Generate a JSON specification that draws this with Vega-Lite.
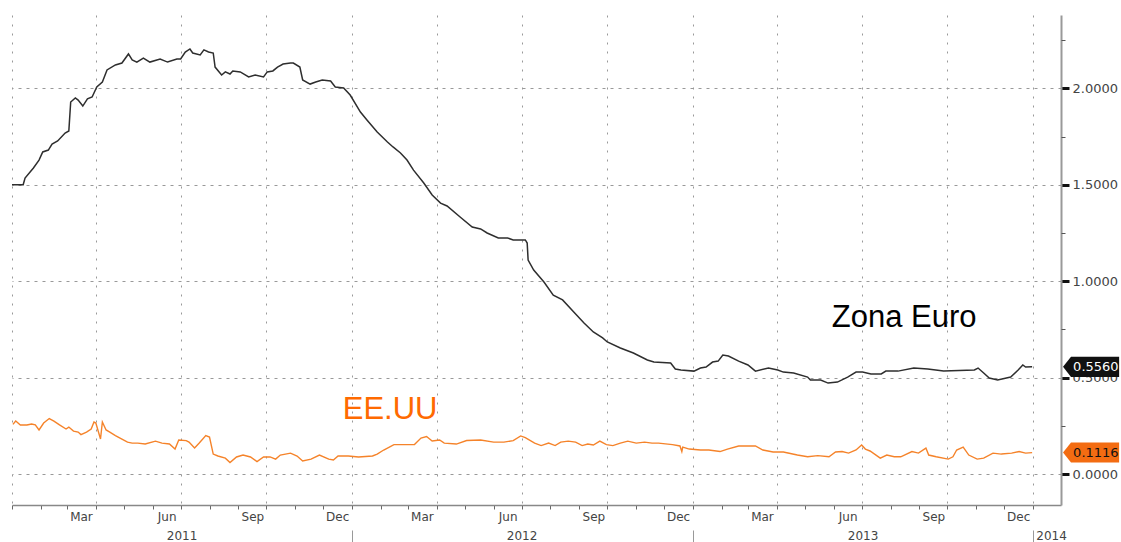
{
  "$schema": "https://vega.github.io/schema/vega-lite/v6.json",
  "width": 1049,
  "height": 490,
  "autosize": {"type": "none"},
  "padding": {"left": 12, "top": 15, "right": 60, "bottom": 37},
  "background": "white",
  "config": {
    "view": {"stroke": null},
    "axis": {"labelFont": "DejaVu Sans", "labelColor": "#444", "title": null}
  },
  "datasets": {
    "eu": [
      {"date": "2011-01-01", "value": 1.50}, {"date": "2011-01-13", "value": 1.50}, {"date": "2011-01-15", "value": 1.535},
      {"date": "2011-01-24", "value": 1.587}, {"date": "2011-01-30", "value": 1.628}, {"date": "2011-02-03", "value": 1.670},
      {"date": "2011-02-09", "value": 1.680}, {"date": "2011-02-13", "value": 1.711}, {"date": "2011-02-19", "value": 1.727},
      {"date": "2011-02-27", "value": 1.768}, {"date": "2011-03-03", "value": 1.779}, {"date": "2011-03-05", "value": 1.929},
      {"date": "2011-03-10", "value": 1.950}, {"date": "2011-03-13", "value": 1.939}, {"date": "2011-03-18", "value": 1.908},
      {"date": "2011-03-23", "value": 1.945}, {"date": "2011-03-28", "value": 1.955}, {"date": "2011-04-02", "value": 2.007},
      {"date": "2011-04-08", "value": 2.033}, {"date": "2011-04-13", "value": 2.095}, {"date": "2011-04-22", "value": 2.121},
      {"date": "2011-04-29", "value": 2.131}, {"date": "2011-05-06", "value": 2.178}, {"date": "2011-05-10", "value": 2.147},
      {"date": "2011-05-15", "value": 2.136}, {"date": "2011-05-22", "value": 2.157}, {"date": "2011-05-29", "value": 2.136},
      {"date": "2011-06-09", "value": 2.152}, {"date": "2011-06-17", "value": 2.136}, {"date": "2011-06-27", "value": 2.152},
      {"date": "2011-07-01", "value": 2.152}, {"date": "2011-07-06", "value": 2.188}, {"date": "2011-07-11", "value": 2.204},
      {"date": "2011-07-14", "value": 2.183}, {"date": "2011-07-22", "value": 2.173}, {"date": "2011-07-26", "value": 2.199},
      {"date": "2011-07-31", "value": 2.188}, {"date": "2011-08-05", "value": 2.183}, {"date": "2011-08-07", "value": 2.110},
      {"date": "2011-08-14", "value": 2.069}, {"date": "2011-08-18", "value": 2.085}, {"date": "2011-08-23", "value": 2.074},
      {"date": "2011-08-26", "value": 2.090}, {"date": "2011-09-03", "value": 2.085}, {"date": "2011-09-12", "value": 2.059},
      {"date": "2011-09-19", "value": 2.069}, {"date": "2011-09-28", "value": 2.059}, {"date": "2011-10-02", "value": 2.085},
      {"date": "2011-10-08", "value": 2.090}, {"date": "2011-10-13", "value": 2.110}, {"date": "2011-10-19", "value": 2.126},
      {"date": "2011-10-27", "value": 2.131}, {"date": "2011-10-30", "value": 2.131}, {"date": "2011-11-06", "value": 2.110},
      {"date": "2011-11-09", "value": 2.043}, {"date": "2011-11-17", "value": 2.022}, {"date": "2011-11-23", "value": 2.033},
      {"date": "2011-11-30", "value": 2.043}, {"date": "2011-12-09", "value": 2.038}, {"date": "2011-12-14", "value": 2.007},
      {"date": "2011-12-23", "value": 2.002}, {"date": "2011-12-30", "value": 1.965}, {"date": "2012-01-10", "value": 1.877},
      {"date": "2012-01-17", "value": 1.836}, {"date": "2012-01-28", "value": 1.773}, {"date": "2012-02-08", "value": 1.722},
      {"date": "2012-02-14", "value": 1.696}, {"date": "2012-02-22", "value": 1.665}, {"date": "2012-02-29", "value": 1.628},
      {"date": "2012-03-07", "value": 1.576}, {"date": "2012-03-18", "value": 1.509}, {"date": "2012-03-27", "value": 1.447},
      {"date": "2012-04-05", "value": 1.405}, {"date": "2012-04-12", "value": 1.390}, {"date": "2012-04-26", "value": 1.333},
      {"date": "2012-05-09", "value": 1.281}, {"date": "2012-05-18", "value": 1.271}, {"date": "2012-05-25", "value": 1.250},
      {"date": "2012-06-06", "value": 1.224}, {"date": "2012-06-16", "value": 1.224}, {"date": "2012-06-22", "value": 1.214},
      {"date": "2012-06-30", "value": 1.214}, {"date": "2012-07-05", "value": 1.214}, {"date": "2012-07-07", "value": 1.198},
      {"date": "2012-07-08", "value": 1.110}, {"date": "2012-07-14", "value": 1.058}, {"date": "2012-07-25", "value": 0.996},
      {"date": "2012-08-04", "value": 0.928}, {"date": "2012-08-14", "value": 0.903}, {"date": "2012-08-26", "value": 0.840},
      {"date": "2012-09-06", "value": 0.783}, {"date": "2012-09-16", "value": 0.737}, {"date": "2012-09-26", "value": 0.706},
      {"date": "2012-10-01", "value": 0.685}, {"date": "2012-10-15", "value": 0.654}, {"date": "2012-10-29", "value": 0.628},
      {"date": "2012-11-13", "value": 0.592}, {"date": "2012-11-20", "value": 0.581}, {"date": "2012-12-08", "value": 0.576},
      {"date": "2012-12-13", "value": 0.545}, {"date": "2012-12-19", "value": 0.540}, {"date": "2013-01-02", "value": 0.534},
      {"date": "2013-01-09", "value": 0.550}, {"date": "2013-01-15", "value": 0.555}, {"date": "2013-01-22", "value": 0.581},
      {"date": "2013-01-28", "value": 0.586}, {"date": "2013-02-02", "value": 0.617}, {"date": "2013-02-08", "value": 0.612},
      {"date": "2013-02-19", "value": 0.586}, {"date": "2013-03-01", "value": 0.566}, {"date": "2013-03-09", "value": 0.534},
      {"date": "2013-03-23", "value": 0.550}, {"date": "2013-04-02", "value": 0.540}, {"date": "2013-04-08", "value": 0.529},
      {"date": "2013-04-19", "value": 0.524}, {"date": "2013-05-04", "value": 0.503}, {"date": "2013-05-07", "value": 0.488},
      {"date": "2013-05-18", "value": 0.488}, {"date": "2013-05-26", "value": 0.472}, {"date": "2013-06-05", "value": 0.477},
      {"date": "2013-06-16", "value": 0.503}, {"date": "2013-06-25", "value": 0.529}, {"date": "2013-07-02", "value": 0.529},
      {"date": "2013-07-11", "value": 0.519}, {"date": "2013-07-22", "value": 0.519}, {"date": "2013-07-27", "value": 0.534},
      {"date": "2013-08-09", "value": 0.534}, {"date": "2013-08-26", "value": 0.550}, {"date": "2013-09-10", "value": 0.545},
      {"date": "2013-09-27", "value": 0.534}, {"date": "2013-10-30", "value": 0.540}, {"date": "2013-11-03", "value": 0.550},
      {"date": "2013-11-09", "value": 0.524}, {"date": "2013-11-15", "value": 0.498}, {"date": "2013-11-24", "value": 0.488},
      {"date": "2013-12-08", "value": 0.503}, {"date": "2013-12-16", "value": 0.540}, {"date": "2013-12-21", "value": 0.566},
      {"date": "2013-12-24", "value": 0.555}, {"date": "2013-12-31", "value": 0.556}
    ],
    "us": [
      {"date": "2011-01-02", "value": 0.258}, {"date": "2011-01-05", "value": 0.275}, {"date": "2011-01-10", "value": 0.255},
      {"date": "2011-01-17", "value": 0.255}, {"date": "2011-01-22", "value": 0.260}, {"date": "2011-01-26", "value": 0.255},
      {"date": "2011-01-30", "value": 0.229}, {"date": "2011-02-04", "value": 0.265}, {"date": "2011-02-10", "value": 0.288},
      {"date": "2011-02-15", "value": 0.275}, {"date": "2011-02-21", "value": 0.255}, {"date": "2011-02-28", "value": 0.234},
      {"date": "2011-03-03", "value": 0.244}, {"date": "2011-03-08", "value": 0.223}, {"date": "2011-03-13", "value": 0.218},
      {"date": "2011-03-16", "value": 0.205}, {"date": "2011-03-22", "value": 0.218}, {"date": "2011-03-27", "value": 0.234},
      {"date": "2011-03-30", "value": 0.270}, {"date": "2011-04-01", "value": 0.265}, {"date": "2011-04-06", "value": 0.182},
      {"date": "2011-04-08", "value": 0.270}, {"date": "2011-04-12", "value": 0.229}, {"date": "2011-04-16", "value": 0.218},
      {"date": "2011-04-22", "value": 0.200}, {"date": "2011-04-29", "value": 0.182}, {"date": "2011-05-05", "value": 0.166},
      {"date": "2011-05-10", "value": 0.161}, {"date": "2011-05-16", "value": 0.161}, {"date": "2011-05-24", "value": 0.156},
      {"date": "2011-06-04", "value": 0.171}, {"date": "2011-06-11", "value": 0.161}, {"date": "2011-06-19", "value": 0.156},
      {"date": "2011-06-25", "value": 0.130}, {"date": "2011-06-29", "value": 0.177}, {"date": "2011-07-07", "value": 0.174},
      {"date": "2011-07-10", "value": 0.166}, {"date": "2011-07-16", "value": 0.135}, {"date": "2011-07-21", "value": 0.161},
      {"date": "2011-07-28", "value": 0.200}, {"date": "2011-08-01", "value": 0.192}, {"date": "2011-08-05", "value": 0.104},
      {"date": "2011-08-10", "value": 0.094}, {"date": "2011-08-18", "value": 0.083}, {"date": "2011-08-23", "value": 0.060},
      {"date": "2011-08-30", "value": 0.089}, {"date": "2011-09-06", "value": 0.099}, {"date": "2011-09-14", "value": 0.089},
      {"date": "2011-09-21", "value": 0.065}, {"date": "2011-09-28", "value": 0.089}, {"date": "2011-10-05", "value": 0.089},
      {"date": "2011-10-11", "value": 0.078}, {"date": "2011-10-16", "value": 0.099}, {"date": "2011-10-27", "value": 0.109},
      {"date": "2011-11-03", "value": 0.094}, {"date": "2011-11-09", "value": 0.068}, {"date": "2011-11-18", "value": 0.078},
      {"date": "2011-11-27", "value": 0.099}, {"date": "2011-12-07", "value": 0.078}, {"date": "2011-12-12", "value": 0.073},
      {"date": "2011-12-17", "value": 0.094}, {"date": "2011-12-28", "value": 0.094}, {"date": "2012-01-08", "value": 0.089},
      {"date": "2012-01-23", "value": 0.094}, {"date": "2012-01-28", "value": 0.104}, {"date": "2012-02-04", "value": 0.125},
      {"date": "2012-02-15", "value": 0.153}, {"date": "2012-03-08", "value": 0.153}, {"date": "2012-03-15", "value": 0.187},
      {"date": "2012-03-21", "value": 0.195}, {"date": "2012-03-27", "value": 0.172}, {"date": "2012-04-04", "value": 0.177},
      {"date": "2012-04-09", "value": 0.161}, {"date": "2012-04-22", "value": 0.156}, {"date": "2012-05-03", "value": 0.174},
      {"date": "2012-05-18", "value": 0.177}, {"date": "2012-06-01", "value": 0.166}, {"date": "2012-06-12", "value": 0.166},
      {"date": "2012-06-22", "value": 0.174}, {"date": "2012-06-30", "value": 0.198}, {"date": "2012-07-05", "value": 0.189},
      {"date": "2012-07-15", "value": 0.161}, {"date": "2012-07-22", "value": 0.148}, {"date": "2012-07-30", "value": 0.161},
      {"date": "2012-08-06", "value": 0.148}, {"date": "2012-08-12", "value": 0.166}, {"date": "2012-08-20", "value": 0.171},
      {"date": "2012-08-28", "value": 0.166}, {"date": "2012-09-04", "value": 0.148}, {"date": "2012-09-10", "value": 0.156},
      {"date": "2012-09-16", "value": 0.151}, {"date": "2012-09-23", "value": 0.171}, {"date": "2012-09-30", "value": 0.153},
      {"date": "2012-10-07", "value": 0.148}, {"date": "2012-10-15", "value": 0.161}, {"date": "2012-10-23", "value": 0.171},
      {"date": "2012-11-01", "value": 0.161}, {"date": "2012-11-10", "value": 0.166}, {"date": "2012-11-18", "value": 0.161},
      {"date": "2012-11-25", "value": 0.161}, {"date": "2012-12-10", "value": 0.153}, {"date": "2012-12-18", "value": 0.146},
      {"date": "2012-12-20", "value": 0.117}, {"date": "2012-12-21", "value": 0.140}, {"date": "2012-12-28", "value": 0.130},
      {"date": "2013-01-09", "value": 0.125}, {"date": "2013-01-18", "value": 0.125}, {"date": "2013-01-30", "value": 0.117},
      {"date": "2013-02-07", "value": 0.130}, {"date": "2013-02-19", "value": 0.146}, {"date": "2013-03-02", "value": 0.146},
      {"date": "2013-03-09", "value": 0.146}, {"date": "2013-03-17", "value": 0.125}, {"date": "2013-03-28", "value": 0.115},
      {"date": "2013-04-08", "value": 0.115}, {"date": "2013-04-23", "value": 0.099}, {"date": "2013-05-04", "value": 0.090},
      {"date": "2013-05-15", "value": 0.096}, {"date": "2013-05-27", "value": 0.090}, {"date": "2013-06-03", "value": 0.115},
      {"date": "2013-06-10", "value": 0.117}, {"date": "2013-06-17", "value": 0.109}, {"date": "2013-06-25", "value": 0.125},
      {"date": "2013-07-01", "value": 0.151}, {"date": "2013-07-05", "value": 0.130}, {"date": "2013-07-10", "value": 0.120},
      {"date": "2013-07-21", "value": 0.083}, {"date": "2013-07-28", "value": 0.099}, {"date": "2013-08-05", "value": 0.090},
      {"date": "2013-08-12", "value": 0.090}, {"date": "2013-08-24", "value": 0.117}, {"date": "2013-08-31", "value": 0.109},
      {"date": "2013-09-08", "value": 0.135}, {"date": "2013-09-11", "value": 0.099}, {"date": "2013-09-19", "value": 0.090},
      {"date": "2013-10-02", "value": 0.078}, {"date": "2013-10-07", "value": 0.090}, {"date": "2013-10-11", "value": 0.125},
      {"date": "2013-10-18", "value": 0.140}, {"date": "2013-10-24", "value": 0.099}, {"date": "2013-11-02", "value": 0.078},
      {"date": "2013-11-09", "value": 0.083}, {"date": "2013-11-19", "value": 0.109}, {"date": "2013-11-28", "value": 0.104},
      {"date": "2013-12-09", "value": 0.109}, {"date": "2013-12-17", "value": 0.117}, {"date": "2013-12-24", "value": 0.109},
      {"date": "2013-12-31", "value": 0.1116}
    ],
    "tags": [
      {"date": "2013-12-31", "value": 0.556, "label": "0.5560", "series": "Zona Euro"},
      {"date": "2013-12-31", "value": 0.1116, "label": "0.1116", "series": "EE.UU"}
    ]
  },
  "layer": [
    {
      "data": {"name": "eu"},
      "mark": {"type": "line", "color": "#2e2e2e", "strokeWidth": 1.5, "interpolate": "linear"},
      "encoding": {
        "x": {
          "field": "date", "type": "temporal",
          "scale": {"type": "utc", "domain": [{"year": 2011, "month": 1, "date": 1, "utc": true}, {"year": 2014, "month": 1, "date": 31, "utc": true}]},
          "axis": {"orient": "bottom", "tickCount": {"interval": "month", "step": 1}, "labels": false, "grid": false, "ticks": true, "tickSize": 4, "tickColor": "#666", "domain": true, "domainColor": "#888", "domainWidth": 1.5}
        },
        "y": {
          "field": "value", "type": "quantitative",
          "scale": {"domain": [-0.16, 2.38], "nice": false, "zero": false},
          "axis": {"orient": "right", "values": [0, 0.5, 1, 1.5, 2], "format": ".4f", "grid": true, "gridDash": [3, 5], "gridColor": "#999", "tickSize": 8, "tickWidth": 3, "tickColor": "#111", "domainColor": "#999", "domainWidth": 2, "labelPadding": 3, "labelFontSize": 13}
        }
      }
    },
    {
      "data": {"name": "us"},
      "mark": {"type": "line", "color": "#f5832a", "strokeWidth": 1.4},
      "encoding": {
        "x": {
          "field": "date", "type": "temporal",
          "axis": {"orient": "bottom", "tickCount": {"interval": "month", "step": 3}, "grid": true, "gridDash": [2, 7], "gridColor": "#999", "ticks": false, "tickSize": 0, "labels": false, "domain": false}
        },
        "y": {
          "field": "value", "type": "quantitative",
          "axis": {"orient": "right", "values": [0.25, 0.75, 1.25, 1.75, 2.25], "labels": false, "grid": false, "domain": false, "tickSize": 4, "tickColor": "#555"}
        }
      }
    },
    {
      "data": {"values": [{"date": "2013-05-30", "value": 0.763, "label": "Zona Euro"}]},
      "mark": {"type": "text", "align": "left", "baseline": "alphabetic", "font": "Liberation Sans", "fontSize": 31, "color": "#000"},
      "encoding": {
        "x": {
          "field": "date", "type": "temporal",
          "axis": {
            "orient": "bottom",
            "values": [
              {"year": 2011, "month": 3, "date": 16, "utc": true}, {"year": 2011, "month": 6, "date": 16, "utc": true},
              {"year": 2011, "month": 9, "date": 16, "utc": true}, {"year": 2011, "month": 12, "date": 16, "utc": true},
              {"year": 2012, "month": 3, "date": 16, "utc": true}, {"year": 2012, "month": 6, "date": 16, "utc": true},
              {"year": 2012, "month": 9, "date": 16, "utc": true}, {"year": 2012, "month": 12, "date": 16, "utc": true},
              {"year": 2013, "month": 3, "date": 16, "utc": true}, {"year": 2013, "month": 6, "date": 16, "utc": true},
              {"year": 2013, "month": 9, "date": 16, "utc": true}, {"year": 2013, "month": 12, "date": 16, "utc": true}
            ],
            "labelExpr": "utcFormat(datum.value, '%b')",
            "ticks": false, "tickSize": 0, "domain": false, "grid": false, "labelPadding": 6, "labelFontSize": 12, "labelOverlap": false, "labelFlush": false
          }
        },
        "y": {"field": "value", "type": "quantitative", "axis": null},
        "text": {"field": "label"}
      }
    },
    {
      "data": {"values": [{"date": "2011-12-22", "value": 0.286, "label": "EE.UU"}]},
      "mark": {"type": "text", "align": "left", "baseline": "alphabetic", "font": "Liberation Sans", "fontSize": 31, "color": "#ff6a00"},
      "encoding": {
        "x": {
          "field": "date", "type": "temporal",
          "axis": {
            "orient": "bottom",
            "values": [
              {"year": 2011, "month": 7, "date": 2, "utc": true}, {"year": 2012, "month": 7, "date": 1, "utc": true},
              {"year": 2013, "month": 7, "date": 2, "utc": true}, {"year": 2014, "month": 1, "date": 4, "utc": true}
            ],
            "labelExpr": "utcFormat(datum.value, '%Y')",
            "labelAlign": {"condition": {"test": "utcyear(datum.value) == 2014", "value": "left"}, "value": "center"},
            "ticks": false, "tickSize": 0, "domain": false, "grid": false, "labelPadding": 25, "labelFontSize": 12, "labelOverlap": false, "labelFlush": false
          }
        },
        "y": {"field": "value", "type": "quantitative", "axis": null},
        "text": {"field": "label"}
      }
    },
    {
      "data": {"name": "tags"},
      "mark": {"type": "point", "filled": true, "opacity": 1, "strokeWidth": 0, "size": 3364, "shape": "M1.066,0L1.341,-0.345L3,-0.345L3,0.345L1.341,0.345Z"},
      "encoding": {
        "x": {
          "field": "date", "type": "temporal",
          "axis": {
            "orient": "bottom",
            "values": [{"year": 2012, "month": 1, "date": 1, "utc": true}, {"year": 2013, "month": 1, "date": 1, "utc": true}, {"year": 2014, "month": 1, "date": 1, "utc": true}],
            "offset": 25, "ticks": true, "tickSize": 15, "tickColor": "#999", "tickWidth": 1, "labels": false, "domain": false, "grid": false
          }
        },
        "y": {"field": "value", "type": "quantitative", "axis": null},
        "fill": {"field": "series", "type": "nominal", "scale": {"domain": ["Zona Euro", "EE.UU"], "range": ["#111111", "#f36c12"]}, "legend": null}
      }
    },
    {
      "data": {"name": "tags"},
      "mark": {"type": "text", "align": "left", "baseline": "middle", "dx": 41, "font": "DejaVu Sans", "fontSize": 13},
      "encoding": {
        "x": {"field": "date", "type": "temporal", "axis": null},
        "y": {"field": "value", "type": "quantitative", "axis": null},
        "text": {"field": "label"},
        "color": {"field": "series", "type": "nominal", "scale": {"domain": ["Zona Euro", "EE.UU"], "range": ["#ffffff", "#111111"]}, "legend": null}
      }
    }
  ],
  "resolve": {"axis": {"x": "independent", "y": "independent"}}
}
